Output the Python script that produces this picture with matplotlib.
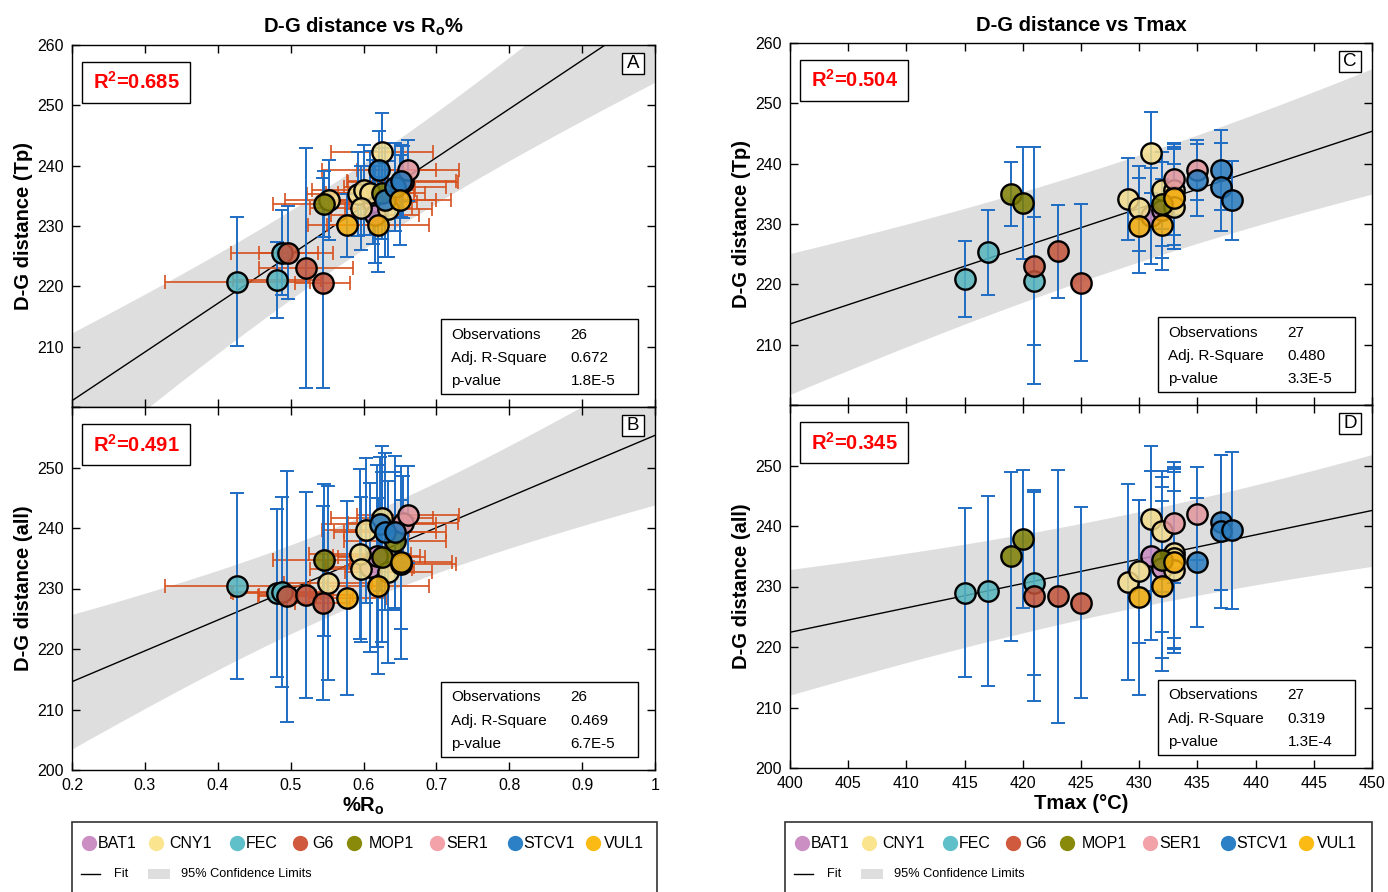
import numpy as np
import matplotlib
matplotlib.use("Agg")
import matplotlib.pyplot as plt
from matplotlib.patches import Rectangle
from matplotlib.lines import Line2D

plt.rcParams['font.family'] = ['Liberation Sans', 'DejaVu Sans']
plt.rcParams['mathtext.fontset'] = 'custom'
plt.rcParams['mathtext.rm'] = 'Liberation Sans'
plt.rcParams['mathtext.bf'] = 'Liberation Sans:bold'

# ---------------- data ----------------
SITES = ['BAT1', 'CNY1', 'FEC', 'G6', 'MOP1', 'SER1', 'STCV1', 'VUL1']
SITE_COLORS = ['#C98BC0', '#F3DC8C', '#56B4BE', '#C4533A', '#7E7E05',
               '#E3979E', '#2A7BBE', '#F2AA0A']
LEGEND_COLORS = ['#CC8FC4', '#FBE48E', '#5FC0CA', '#CF5A3E', '#8A8A0A',
                 '#F2A2A8', '#2B80C6', '#FBBB14']

# Panel A: Ro (%) vs D-G distance (Tp)
A_site = ['BAT1', 'BAT1',
          'CNY1', 'CNY1', 'CNY1', 'CNY1', 'CNY1', 'CNY1', 'CNY1',
          'FEC', 'FEC', 'FEC', 'G6', 'G6', 'G6', 'MOP1', 'MOP1',
          'SER1', 'SER1', 'STCV1', 'STCV1', 'STCV1', 'STCV1',
          'VUL1', 'VUL1', 'VUL1']
A_ro = [0.613, 0.616,
        0.552, 0.593, 0.600, 0.609, 0.597, 0.625, 0.634,
        0.427, 0.481, 0.488, 0.497, 0.521, 0.544, 0.546, 0.625,
        0.654, 0.661, 0.621, 0.629, 0.643, 0.652,
        0.577, 0.620, 0.650]
A_ro_err = [0.06, 0.06,
            0.06, 0.07, 0.07, 0.06, 0.07, 0.07, 0.06,
            0.10, 0.06, 0.07, 0.04, 0.065, 0.038, 0.07, 0.06,
            0.075, 0.07, 0.078, 0.07, 0.07, 0.075,
            0.053, 0.07, 0.07]
A_tp = [234.0, 231.9,
        234.3, 235.3, 236.0, 235.5, 233.0, 242.2, 232.8,
        220.8, 221.1, 225.6, 225.6, 223.1, 220.5, 233.6, 235.4,
        237.3, 239.2, 239.2, 234.3, 236.4, 237.5,
        230.1, 230.2, 234.3]
A_tp_err = [7.0, 8.0,
            6.7, 7.0, 7.5, 7.0, 7.0, 6.6, 8.0,
            10.7, 6.3, 7.1, 7.7, 19.9, 17.4, 5.5, 7.5,
            6.0, 5.0, 6.6, 9.5, 7.3, 6.0,
            5.2, 7.9, 7.5]

# Panel B: Ro (%) vs D-G distance (all)
B_site = ['BAT1', 'BAT1',
          'CNY1', 'CNY1', 'CNY1', 'CNY1', 'CNY1', 'CNY1',
          'FEC', 'FEC', 'FEC', 'G6', 'G6', 'G6', 'MOP1', 'MOP1', 'MOP1',
          'SER1', 'SER1', 'STCV1', 'STCV1', 'STCV1', 'STCV1',
          'VUL1', 'VUL1', 'VUL1']
B_ro = [0.609, 0.618,
        0.551, 0.595, 0.597, 0.603, 0.625, 0.634,
        0.427, 0.481, 0.488, 0.495, 0.521, 0.544, 0.546, 0.625, 0.643,
        0.654, 0.661, 0.622, 0.629, 0.643, 0.652,
        0.578, 0.620, 0.652]
B_ro_err = [0.06, 0.06,
            0.06, 0.07, 0.07, 0.06, 0.07, 0.06,
            0.10, 0.06, 0.07, 0.04, 0.065, 0.038, 0.07, 0.06, 0.07,
            0.075, 0.07, 0.078, 0.07, 0.07, 0.075,
            0.053, 0.07, 0.07]
B_all = [233.5, 235.4,
         230.9, 235.7, 233.2, 239.6, 241.6, 232.7,
         230.4, 229.3, 229.4, 228.7, 228.9, 227.6, 234.7, 235.2, 237.9,
         240.9, 242.2, 240.7, 239.4, 239.3, 234.0,
         228.4, 230.4, 234.3]
B_all_err = [14.0, 15.0,
             16.0, 14.0, 12.0, 12.0, 12.0, 15.0,
             15.4, 13.9, 15.7, 20.8, 17.0, 16.0, 12.5, 14.0, 11.4,
             7.7, 8.0, 11.1, 13.0, 12.6, 10.7,
             16.0, 14.5, 16.0]

# Panel C: Tmax vs D-G distance (Tp)
C_site = ['BAT1', 'BAT1',
          'CNY1', 'CNY1', 'CNY1', 'CNY1', 'CNY1', 'CNY1', 'CNY1',
          'FEC', 'FEC', 'FEC', 'G6', 'G6', 'G6', 'MOP1', 'MOP1', 'MOP1',
          'SER1', 'SER1', 'STCV1', 'STCV1', 'STCV1', 'STCV1',
          'VUL1', 'VUL1', 'VUL1']
C_tmax = [431, 432,
          429, 430, 431, 432, 433, 433, 433,
          415, 417, 421, 421, 423, 425, 419, 420, 432,
          433, 435, 435, 437, 437, 438,
          430, 432, 433]
C_tp = [231.3, 232.3,
        234.2, 232.6, 241.8, 235.6, 235.7, 234.5, 232.9,
        220.9, 225.3, 220.6, 223.1, 225.5, 220.3, 234.9, 233.5, 233.3,
        237.5, 239.0, 237.3, 239.0, 236.2, 233.9,
        229.7, 229.9, 234.3]
C_tp_err = [8.0, 8.0,
            6.8, 7.0, 6.7, 6.4, 7.5, 8.0, 7.0,
            6.3, 7.1, 10.6, 19.6, 7.7, 13.0, 5.3, 9.3, 7.0,
            6.0, 5.0, 6.0, 6.6, 7.3, 6.5,
            7.9, 7.5, 8.5]

# Panel D: Tmax vs D-G distance (all)
D_site = C_site
D_tmax = C_tmax
D_all = [235.1, 233.1,
         230.7, 232.5, 241.2, 239.1, 235.5, 234.7, 232.8,
         229.0, 229.2, 230.5, 228.5, 228.4, 227.3, 235.0, 237.8, 234.4,
         240.5, 242.0, 234.0, 240.6, 239.1, 239.3,
         228.2, 230.1, 234.0]
D_all_err = [14.0, 15.0,
             16.2, 11.8, 12.0, 10.0, 14.0, 15.0, 13.0,
             14.0, 15.7, 15.1, 17.5, 20.9, 15.8, 14.0, 11.4, 12.0,
             10.0, 7.7, 10.7, 11.1, 12.6, 13.0,
             16.1, 14.0, 15.0]

R2_TEXT = ['0.685', '0.491', '0.504', '0.345']
STATS = [('26', '0.672', '1.8E-5'), ('26', '0.469', '6.7E-5'),
         ('27', '0.480', '3.3E-5'), ('27', '0.319', '1.3E-4')]
PANEL_LABELS = ['A', 'B', 'C', 'D']
T95 = {24: 2.064, 25: 2.060}

BLUE_ERR = '#1E6CC4'
ORANGE_ERR = '#D6501C'
BAND = '#DEDEDE'

# ---------------- figure ----------------
W, H = 1388, 892
fig = plt.figure(figsize=(W / 100, H / 100), dpi=100)


def add_ax(left, top, right, bottom):
    return fig.add_axes([left / W, 1 - bottom / H, (right - left) / W, (bottom - top) / H])


axA = add_ax(72, 45, 655, 407)
axB = add_ax(72, 407, 655, 770)
axC = add_ax(790, 43, 1372, 405)
axD = add_ax(790, 405, 1372, 768)


def draw(ax, site, x, y, yerr, xerr, xlim, ylim, xticks, yticks, r2, stats, plabel,
         show_xlabels, ylabels_shown):
    x = np.asarray(x, float)
    y = np.asarray(y, float)
    n = len(x)
    slope, icpt = np.polyfit(x, y, 1)
    resid = y - (icpt + slope * x)
    s = np.sqrt(np.sum(resid ** 2) / (n - 2))
    xm = x.mean()
    sxx = np.sum((x - xm) ** 2)
    xx = np.linspace(xlim[0], xlim[1], 200)
    yy = icpt + slope * xx
    hw = T95[n - 2] * s * np.sqrt(1 + 1 / n + (xx - xm) ** 2 / sxx)
    ax.fill_between(xx, yy - hw, yy + hw, color=BAND, lw=0, zorder=1)
    ax.plot(xx, yy, color='black', lw=1.0, zorder=2)

    if xerr is not None:
        ax.errorbar(x, y, xerr=xerr, fmt='none', ecolor=ORANGE_ERR, elinewidth=1.2,
                    capsize=5, capthick=1.2, zorder=3)
    ax.errorbar(x, y, yerr=yerr, fmt='none', ecolor=BLUE_ERR, elinewidth=1.4,
                capsize=5, capthick=1.4, zorder=3)

    for s_name, col in zip(SITES, SITE_COLORS):
        idx = [i for i, v in enumerate(site) if v == s_name]
        if not idx:
            continue
        ax.scatter(x[idx], y[idx], s=215, facecolor=matplotlib.colors.to_rgba(col, 0.85),
                   edgecolor='black', linewidth=1.7, zorder=4)

    ax.set_xlim(*xlim)
    ax.set_ylim(*ylim)
    ax.set_xticks(xticks)
    ax.set_yticks(yticks)
    ax.set_yticklabels([('%g' % v) if v in ylabels_shown else '' for v in yticks])
    if show_xlabels:
        ax.set_xticklabels(['%g' % v for v in xticks])
    else:
        ax.set_xticklabels([])
    ax.tick_params(direction='in', length=6, width=1, top=True, right=True,
                   labelsize=11.5, pad=6)
    for sp in ax.spines.values():
        sp.set_linewidth(1.0)

    # R2 box
    ax.add_patch(Rectangle((0.017, 0.84), 0.186, 0.114, transform=ax.transAxes,
                           facecolor='white', edgecolor='black', lw=1.0, zorder=6))
    ax.text(0.11, 0.897, 'R$^{\\mathbf{2}}$=' + r2, transform=ax.transAxes, color='#FF0000',
            fontsize=14.5, fontweight='bold', ha='center', va='center', zorder=7)
    # panel label
    ax.add_patch(Rectangle((0.943, 0.92), 0.038, 0.058, transform=ax.transAxes,
                           facecolor='white', edgecolor='black', lw=1.0, zorder=6))
    ax.text(0.962, 0.949, plabel, transform=ax.transAxes, fontsize=13.5,
            ha='center', va='center', zorder=7)
    # stats box
    ax.add_patch(Rectangle((0.633, 0.035), 0.338, 0.207, transform=ax.transAxes,
                           facecolor='white', edgecolor='black', lw=1.0, zorder=6))
    names = ['Observations', 'Adj. R-Square', 'p-value']
    for k, (nm, val) in enumerate(zip(names, stats)):
        yk = 0.200 - k * 0.064
        ax.text(0.65, yk, nm, transform=ax.transAxes, fontsize=11, ha='left',
                va='center', zorder=7)
        ax.text(0.855, yk, val, transform=ax.transAxes, fontsize=11, ha='left',
                va='center', zorder=7)


ro_ticks = [0.2, 0.3, 0.4, 0.5, 0.6, 0.7, 0.8, 0.9, 1.0]
t_ticks = list(range(400, 451, 5))
y_ticks = [200, 210, 220, 230, 240, 250, 260]

draw(axA, A_site, A_ro, A_tp, A_tp_err, A_ro_err, (0.2, 1.0), (200, 260), ro_ticks, y_ticks,
     R2_TEXT[0], STATS[0], 'A', False, [210, 220, 230, 240, 250, 260])
draw(axB, B_site, B_ro, B_all, B_all_err, B_ro_err, (0.2, 1.0), (200, 260), ro_ticks, y_ticks,
     R2_TEXT[1], STATS[1], 'B', True, [200, 210, 220, 230, 240, 250])
draw(axC, C_site, C_tmax, C_tp, C_tp_err, None, (400, 450), (200, 260), t_ticks, y_ticks,
     R2_TEXT[2], STATS[2], 'C', False, [210, 220, 230, 240, 250, 260])
draw(axD, D_site, D_tmax, D_all, D_all_err, None, (400, 450), (200, 260), t_ticks, y_ticks,
     R2_TEXT[3], STATS[3], 'D', True, [200, 210, 220, 230, 240, 250])

lab_kw = dict(fontsize=14.5, fontweight='bold')
axA.set_title('D-G distance vs R$_{\\mathbf{o}}$%', pad=9, **lab_kw)
axC.set_title('D-G distance vs Tmax', pad=9, **lab_kw)
axA.set_ylabel('D-G distance (Tp)', labelpad=3, **lab_kw)
axB.set_ylabel('D-G distance (all)', labelpad=3, **lab_kw)
axC.set_ylabel('D-G distance (Tp)', labelpad=3, **lab_kw)
axD.set_ylabel('D-G distance (all)', labelpad=3, **lab_kw)
axB.set_xlabel('%R$_{\\mathbf{o}}$', labelpad=2, **lab_kw)
axD.set_xlabel('Tmax (°C)', labelpad=2, **lab_kw)

# ---------------- legends ----------------
CIRCLE_OFFS = [17, 84, 165, 228, 282, 365, 443, 521]
TEXT_OFFS = [26, 97, 174, 240, 297, 374, 451, 532]


def legend(x0, x1):
    fig.patches.append(Rectangle((x0 / W, -0.02), (x1 - x0) / W, 0.02 + (892 - 822) / H,
                                 transform=fig.transFigure, facecolor='white',
                                 edgecolor='#333333', lw=1.2))
    yr = 1 - 843 / H
    for name, col, co, to in zip(SITES, LEGEND_COLORS, CIRCLE_OFFS, TEXT_OFFS):
        fig.add_artist(Line2D([(x0 + co) / W], [yr], marker='o', ms=10, color=col,
                              mec=col, transform=fig.transFigure, lw=0))
        fig.text((x0 + to) / W, yr, name, fontsize=11.5, va='center', ha='left')
    yl = 1 - 874 / H
    fig.add_artist(Line2D([(x0 + 9) / W, (x0 + 28) / W], [yl, yl], color='black', lw=1.0,
                          transform=fig.transFigure))
    fig.text((x0 + 42) / W, yl, 'Fit', fontsize=9.2, va='center', ha='left')
    fig.patches.append(Rectangle(((x0 + 76) / W, yl - 5 / H), 22 / W, 10 / H,
                                 transform=fig.transFigure, facecolor=BAND, lw=0))
    fig.text((x0 + 109) / W, yl, '95% Confidence Limits', fontsize=9.2, va='center', ha='left')


legend(72, 657)
legend(785, 1372)

fig.savefig('out.png', dpi=100)
